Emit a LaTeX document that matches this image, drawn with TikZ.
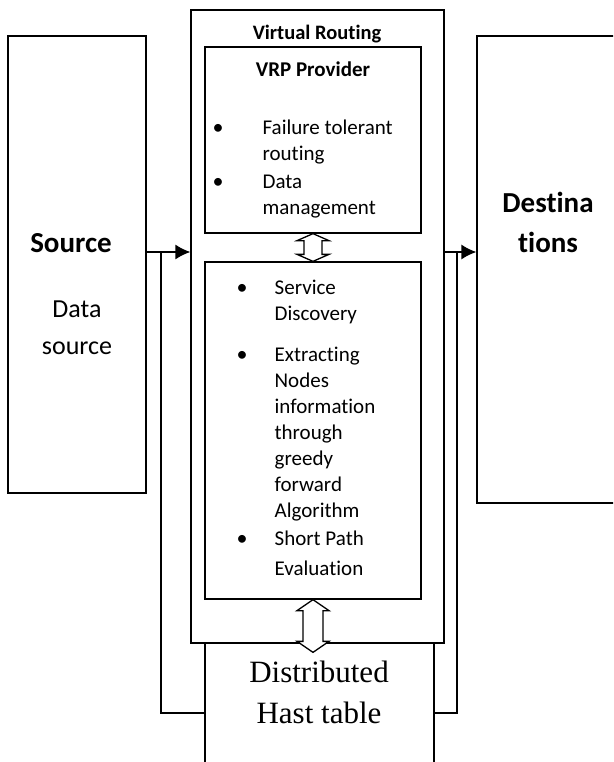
\documentclass[tikz,border=0pt]{standalone}
\usepackage{fontspec}
\setmainfont{Carlito}[Ligatures=NoCommon]
\newfontfamily\dhtfont{Liberation Serif}
\usetikzlibrary{calc,arrows.meta}
% lines hanging from the first baseline
\newcommand{\lstack}[1]{\begin{tabular}[t]{@{}l@{}}#1\end{tabular}}
\newcommand{\cstack}[1]{\begin{tabular}[t]{@{}c@{}}#1\end{tabular}}
% hollow double arrow: #1 top tip, #2 bottom tip, #3 half shaft, #4 head length
\newcommand{\dblarrow}[4]{%
\draw[fill=white] (#1) -- ++(16,#4) -- ++({-16+#3},0) -- ($(#2)+(#3,-#4)$)
  -- ++({16-#3},0) -- (#2) -- ++(-16,-#4) -- ++({16-#3},0)
  -- ($(#1)+(-#3,#4)$) -- ++({-16+#3},0) -- cycle;}

\begin{document}
\begin{tikzpicture}[x=1pt,y=-1pt,line width=1.3pt]
\tikzset{edge/.style = {-{Latex[length=15pt,width=15pt]}}}
\tikzset{box/.style = {draw, inner sep=0}}
\tikzset{item/.style = {anchor=base west, inner sep=0, font=\fontsize{21}{26}\selectfont}}
\tikzset{dot/.style = {anchor=base, inner sep=0, font=\fontsize{22}{26}\selectfont}}
\path[use as bounding box, clip] (0,0) rectangle (613,762);
\fill[white] (0,0) rectangle (613,762);
% boxes
\node [box, minimum width=138, minimum height=457] at (77,264.5) (src) {};
\node [box, minimum width=143, minimum height=467] at (548.5,269.5) (dst) {};
\node [box, minimum width=253, minimum height=633] at (317.5,326.5) (vr) {};
\node [box, minimum width=216, minimum height=186] at (313,140) (vrp) {};
\node [box, minimum width=216, minimum height=337] at (313,430.5) (mid) {};
\node [box, minimum width=229, minimum height=130] at (319.5,708) (dht) {};
\draw (vr.south west) -- (vr.south east);
% texts
\node [anchor=base, inner sep=0, font=\fontsize{29}{35}\bfseries] at (71,252) (srct) {Source};
\node [anchor=base, inner sep=0, font=\fontsize{26}{37}\selectfont] at (77,317) (srcd) {\cstack{Data\\source}};
\node [anchor=base, inner sep=0, font=\fontsize{29}{40}\bfseries] at (548,212) (dstt) {\cstack{Destina\\tions}};
\node [anchor=base, inner sep=0, font=\fontsize{20.5}{25}\bfseries] at (317,40) (vrt) {Virtual Routing};
\node [anchor=base, inner sep=0, font=\fontsize{21}{25}\bfseries] at (313,77) (vrpt) {VRP Provider};
\node [dot] at (218,135) (d1) {\textbullet};
\node [item] at (262,135) (i1) {\lstack{Failure tolerant\\routing}};
\node [dot] at (218,188) (d2) {\textbullet};
\node [item] at (262,188) (i2) {\lstack{Data\\management}};
\node [dot] at (242,294) (d3) {\textbullet};
\node [item] at (274,294) (i3) {\lstack{Service\\Discovery}};
\node [dot] at (242,361) (d4) {\textbullet};
\node [item] at (274,361) (i4) {\lstack{Extracting\\Nodes\\information\\through\\greedy\\forward\\Algorithm}};
\node [dot] at (242,545) (d5) {\textbullet};
\node [item, font=\fontsize{21}{30}\selectfont] at (274,545) (i5) {\lstack{Short Path\\Evaluation}};
\node [anchor=base, inner sep=0, font=\dhtfont\fontsize{31}{41}\selectfont] at (319,682) (dhtt) {\cstack{Distributed\\Hast table}};
% connectors
\coordinate (lvl) at (0,252);
\coordinate (fb) at (0,713);
\coordinate (lj) at (161,252);
\coordinate (rj) at (457,252);
\draw [edge] (src.east |- lvl) -- (vr.west |- lvl);
\draw (lj) |- (dht.west |- fb);
\draw [edge] (vr.east |- lvl) -- (dst.west |- lvl);
\draw (rj) |- (dht.east |- fb);
\dblarrow{vrp.south}{mid.north}{9}{7}
\dblarrow{mid.south}{$(mid.south |- dht.north)+(0,10)$}{10}{11}
\end{tikzpicture}
\end{document}
